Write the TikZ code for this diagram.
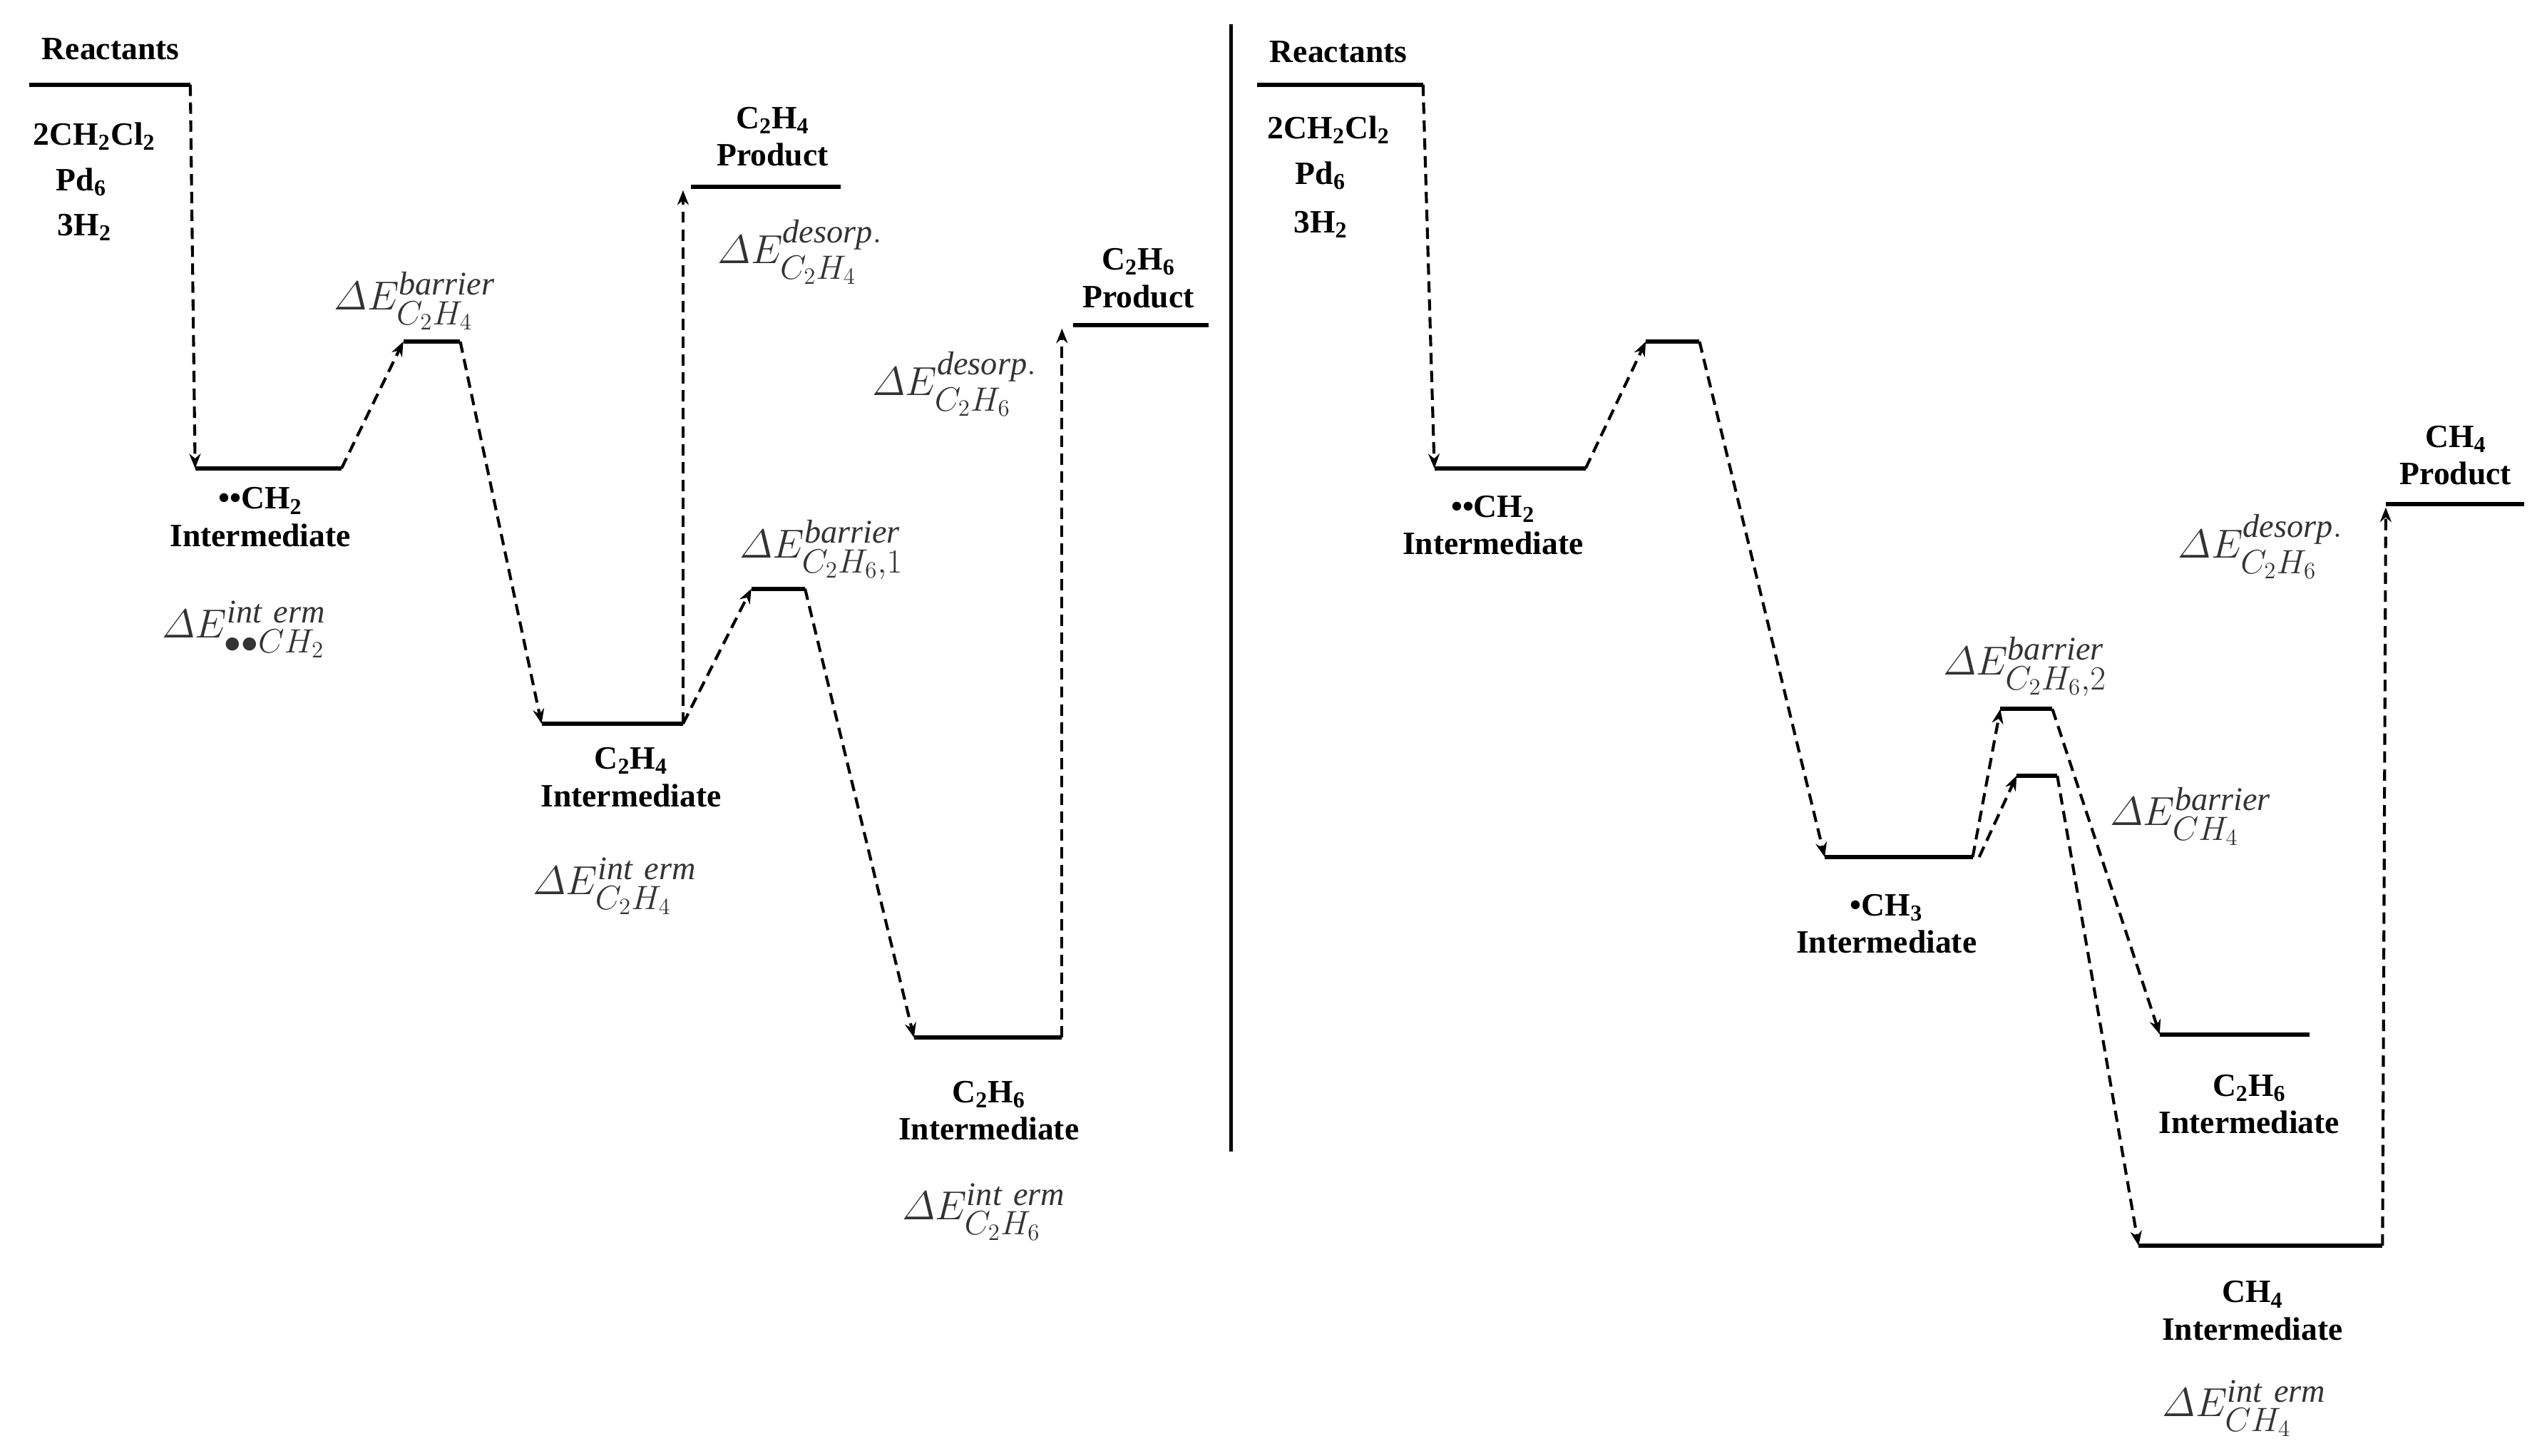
\documentclass[tikz,border=0pt]{standalone}
\usepackage{fontspec}
\usepackage{amsmath}
\setmainfont{Liberation Serif}
\usetikzlibrary{arrows.meta}
\begin{document}
\begin{tikzpicture}[x=1pt,y=-1pt,
  lvl/.style={line width=2.6pt},
  tr/.style={line width=1.8pt,dash pattern=on 7pt off 4pt,-{Stealth[length=9pt,width=7pt]}},
  lab/.style={font=\fontsize{20}{23}\selectfont\bfseries,align=center,inner sep=0pt},
  en/.style={font=\fontsize{29}{30}\selectfont,text=black!80,inner sep=0pt}]
\useasboundingbox (0,0) rectangle (1560,895);
\fill[white] (0,0) rectangle (1560,895);
% ---------- left panel
\coordinate (r1a) at (18,52); \coordinate (r1b) at (117,52);
\coordinate (m1a) at (120,288); \coordinate (m1b) at (210,288);
\coordinate (b1a) at (248,210); \coordinate (b1b) at (283,210);
\coordinate (e1a) at (333,445); \coordinate (e1b) at (420,445);
\coordinate (p1a) at (425,115); \coordinate (p1b) at (517,115);
\coordinate (b2a) at (462,362); \coordinate (b2b) at (495,362);
\coordinate (s1a) at (562,638); \coordinate (s1b) at (653,638);
\coordinate (p2a) at (660,200); \coordinate (p2b) at (743,200);
\foreach \a/\b in {r1a/r1b,m1a/m1b,b1a/b1b,e1a/e1b,p1a/p1b,b2a/b2b,s1a/s1b,p2a/p2b}
  \draw[lvl] (\a) -- (\b);
\draw[tr] (r1b) -- (m1a);
\draw[tr] (m1b) -- (b1a);
\draw[tr] (b1b) -- (e1a);
\draw[tr] (e1b) -- (420,117);
\draw[tr] (e1b) -- (b2a);
\draw[tr] (b2b) -- (s1a);
\draw[tr] (s1b) -- (653,202);
\node[lab] (t1) at (68,30) {Reactants};
\node[lab] (t2) at (58,84) {2CH\textsubscript{2}Cl\textsubscript{2}};
\node[lab] (t3) at (50,112) {Pd\textsubscript{6}};
\node[lab] (t4) at (52,140) {3H\textsubscript{2}};
\node[lab] (t5) at (160,318) {\textbullet\textbullet CH\textsubscript{2}\\Intermediate};
\node[lab] (t6) at (388,478) {C\textsubscript{2}H\textsubscript{4}\\Intermediate};
\node[lab] (t7) at (475,84) {C\textsubscript{2}H\textsubscript{4}\\Product};
\node[lab] (t8) at (608,683) {C\textsubscript{2}H\textsubscript{6}\\Intermediate};
\node[lab] (t9) at (700,171) {C\textsubscript{2}H\textsubscript{6}\\Product};
\node[en] (g1) at (150,387) {$\varDelta E^{\mathit{int\ erm}}_{\bullet\bullet CH_2}$};
\node[en] (g2) at (255,185) {$\varDelta E^{\mathit{barrier}}_{C_2H_4}$};
\node[en] (g3) at (378,545) {$\varDelta E^{\mathit{int\ erm}}_{C_2H_4}$};
\node[en] (g4) at (492,155) {$\varDelta E^{\mathit{desorp.}}_{C_2H_4}$};
\node[en] (g5) at (505,338) {$\varDelta E^{\mathit{barrier}}_{C_2H_6,1}$};
\node[en] (g6) at (605,745) {$\varDelta E^{\mathit{int\ erm}}_{C_2H_6}$};
\node[en] (g7) at (587,236) {$\varDelta E^{\mathit{desorp.}}_{C_2H_6}$};
\draw[line width=2.4pt] (757,15) -- (757,708);
% ---------- right panel
\coordinate (r2a) at (773,52); \coordinate (r2b) at (875,52);
\coordinate (m2a) at (882,288); \coordinate (m2b) at (975,288);
\coordinate (b3a) at (1012,210); \coordinate (b3b) at (1045,210);
\coordinate (c1a) at (1122,527); \coordinate (c1b) at (1213,527);
\coordinate (b4a) at (1230,436); \coordinate (b4b) at (1262,436);
\coordinate (b5a) at (1240,477); \coordinate (b5b) at (1265,477);
\coordinate (s2a) at (1328,636); \coordinate (s2b) at (1420,636);
\coordinate (q1a) at (1315,766); \coordinate (q1b) at (1465,766);
\coordinate (p3a) at (1467,310); \coordinate (p3b) at (1552,310);
\foreach \a/\b in {r2a/r2b,m2a/m2b,b3a/b3b,c1a/c1b,b4a/b4b,b5a/b5b,s2a/s2b,q1a/q1b,p3a/p3b}
  \draw[lvl] (\a) -- (\b);
\draw[tr] (r2b) -- (m2a);
\draw[tr] (m2b) -- (b3a);
\draw[tr] (b3b) -- (c1a);
\draw[tr] (c1b) -- (b4a);
\draw[tr] (1217,527) -- (b5a);
\draw[tr] (b4b) -- (s2a);
\draw[tr] (b5b) -- (q1a);
\draw[tr] (q1b) -- (1467,312);
\node[lab] (u1) at (823,32) {Reactants};
\node[lab] (u2) at (817,80) {2CH\textsubscript{2}Cl\textsubscript{2}};
\node[lab] (u3) at (812,108) {Pd\textsubscript{6}};
\node[lab] (u4) at (812,138) {3H\textsubscript{2}};
\node[lab] (u5) at (918,323) {\textbullet\textbullet CH\textsubscript{2}\\Intermediate};
\node[lab] (u6) at (1160,568) {\textbullet CH\textsubscript{3}\\Intermediate};
\node[lab] (u7) at (1383,679) {C\textsubscript{2}H\textsubscript{6}\\Intermediate};
\node[lab] (u8) at (1385,806) {CH\textsubscript{4}\\Intermediate};
\node[lab] (u9) at (1510,280) {CH\textsubscript{4}\\Product};
\node[en] (h1) at (1245,410) {$\varDelta E^{\mathit{barrier}}_{C_2H_6,2}$};
\node[en] (h2) at (1347,502) {$\varDelta E^{\mathit{barrier}}_{CH_4}$};
\node[en] (h3) at (1380,866) {$\varDelta E^{\mathit{int\ erm}}_{CH_4}$};
\node[en] (h4) at (1390,336) {$\varDelta E^{\mathit{desorp.}}_{C_2H_6}$};
\end{tikzpicture}
\end{document}
